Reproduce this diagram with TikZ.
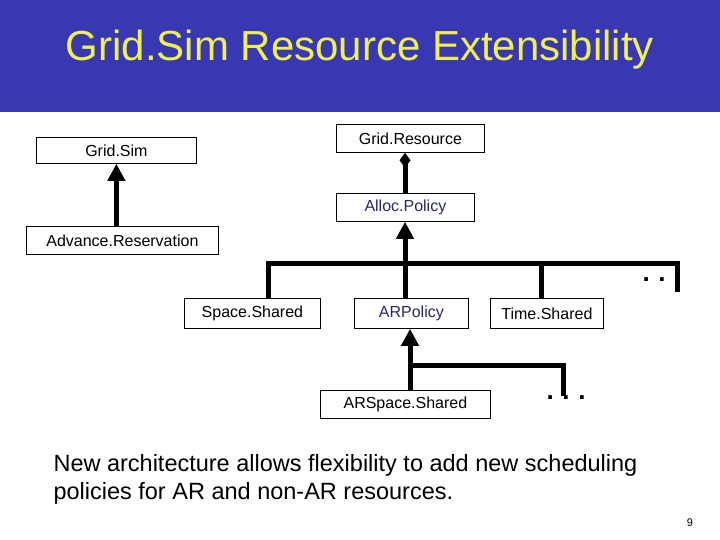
\documentclass[tikz,border=0pt]{standalone}
\usepackage{fontspec}
\setmainfont{Liberation Sans}
\usetikzlibrary{arrows.meta}
\definecolor{band}{RGB}{56,56,178}
\definecolor{ttl}{RGB}{240,240,80}
\definecolor{dblue}{RGB}{40,40,110}
\tikzset{
  cls/.style={draw=black,line width=0.8pt,fill=white,minimum height=28pt,inner sep=0pt,font=\fontsize{16}{18}\selectfont,anchor=north west},
  link/.style={line width=5pt},
  inh/.style={link,-{Triangle[width=17pt,length=17pt]}},
  comp/.style={link,-{Diamond[width=11pt,length=15pt]}},
  dots/.style={font=\fontsize{26}{26}\selectfont\bfseries}
}
\begin{document}
\begin{tikzpicture}[x=1pt,y=-1pt]
\useasboundingbox (0,0) rectangle (720,540);
\fill[white] (0,0) rectangle (720,540);
\fill[band] (0,0) rectangle (720,112);
\node[text=ttl,font=\fontsize{42}{44}\selectfont] (title) at (360,50) {Grid.Sim Resource Extensibility};
\node[cls,minimum width=160pt,minimum height=26pt] (gs) at (36,137) {Grid.Sim};
\node[cls,minimum width=148pt] (gr) at (336,124) {Grid.Resource};
\node[cls,minimum width=138pt,text=dblue] (ap) at (336,193) {Alloc.Policy};
\node[cls,minimum width=192pt] (adv) at (26,226) {Advance.Reservation};
\node[cls,minimum width=136pt,minimum height=30pt] (ss) at (184,298) {Space.Shared};
\node[cls,minimum width=114pt,minimum height=30pt,text=dblue] (arp) at (354,298) {ARPolicy};
\node[cls,minimum width=113pt,minimum height=30pt] (ts) at (490,298) {Time.Shared};
\node[cls,minimum width=170pt] (arss) at (320,390) {ARSpace.Shared};
\coordinate (b1) at (268,263);
\coordinate (b2) at (677,263);
\coordinate (bm) at (405,263);
\coordinate (b3) at (541,263);
\coordinate (e2) at (677,292);
\coordinate (c1) at (410,365);
\coordinate (c2) at (563,365);
\coordinate (c3) at (563,396);
\draw[inh] (adv.north -| gs.south) -- (gs.south);
\draw[comp] (ap.north -| bm) -- (gr.south -| bm);
\draw[inh] (bm) -- (ap.south -| bm);
\draw[link,line cap=rect] (b1) -- (b2);
\draw[link] (b1) -- (ss.north -| b1);
\draw[link] (bm) -- (arp.north -| bm);
\draw[link] (b3) -- (ts.north -| b3);
\draw[link] (b2) -- (e2);
\draw[inh] (arss.north -| c1) -- (arp.south -| c1);
\draw[link,line cap=rect] (c1) -- (c2);
\draw[link] (c2) -- (c3);
\node[dots] (d1) at (662,280) {.\,\,.\,\,.};
\node[dots] (d2) at (566,398) {.\,\,.\,\,.};
\node[anchor=north west,align=left,font=\fontsize{23.5}{28}\selectfont] (txt) at (50,451) {New architecture allows flexibility to add new scheduling\\policies for AR and non-AR resources.};
\node[font=\fontsize{11}{12}\selectfont] (pg) at (690,523) {9};
\end{tikzpicture}
\end{document}
